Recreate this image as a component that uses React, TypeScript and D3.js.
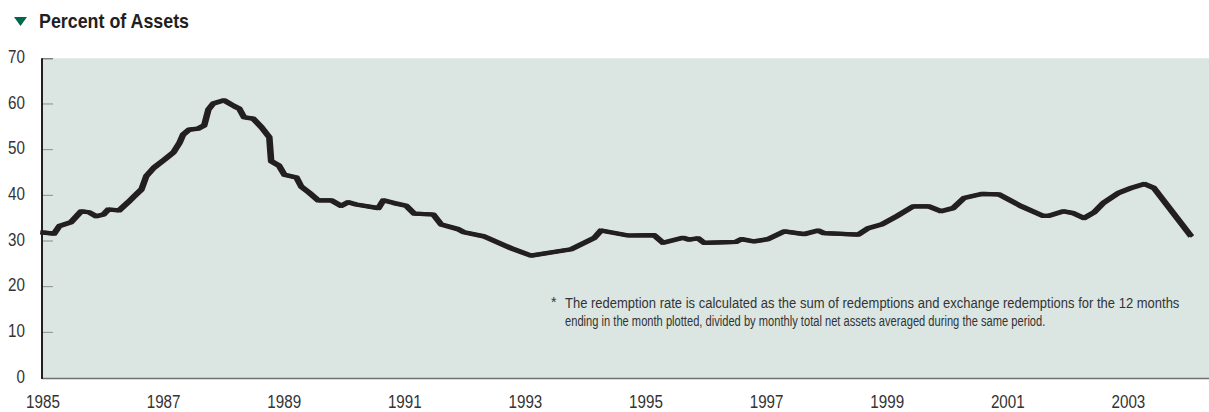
import React, { useLayoutEffect, useRef, useState } from "react";
import * as d3 from "d3";

const years: number[] = [
  1984.97, 1985.18, 1985.27, 1985.46, 1985.63, 1985.76, 1985.88, 1986.0, 1986.08, 1986.26,
  1986.41, 1986.51, 1986.63, 1986.71, 1986.84, 1987.01, 1987.16, 1987.26, 1987.32, 1987.42,
  1987.57, 1987.67, 1987.74, 1987.82, 1988.0, 1988.17, 1988.25, 1988.33, 1988.48, 1988.62,
  1988.75, 1988.78, 1988.91, 1989.0, 1989.2, 1989.28, 1989.41, 1989.56, 1989.78, 1989.94,
  1990.06, 1990.19, 1990.56, 1990.64, 1990.82, 1991.02, 1991.15, 1991.47, 1991.6, 1991.88,
  1991.98, 1992.31, 1992.76, 1993.09, 1993.76, 1994.14, 1994.25, 1994.7, 1995.13, 1995.28,
  1995.61, 1995.71, 1995.86, 1995.96, 1996.49, 1996.58, 1996.79, 1997.02, 1997.29, 1997.62,
  1997.85, 1997.95, 1998.52, 1998.68, 1998.9, 1999.15, 1999.43, 1999.68, 1999.89, 2000.09,
  2000.27, 2000.56, 2000.85, 2001.22, 2001.58, 2001.68, 2001.92, 2002.08, 2002.26, 2002.43,
  2002.58, 2002.83, 2003.04, 2003.26, 2003.42, 2004.04,
];

const rate: number[] = [
  31.9, 31.6, 33.3, 34.1, 36.5, 36.3, 35.4, 35.8, 36.9, 36.7,
  38.5, 39.8, 41.3, 44.2, 46.1, 47.8, 49.4, 51.5, 53.3, 54.4,
  54.6, 55.3, 58.8, 60.1, 60.8, 59.5, 59.0, 57.1, 56.8, 54.9,
  52.7, 47.5, 46.5, 44.5, 43.9, 41.9, 40.6, 38.9, 38.9, 37.7,
  38.5, 38.0, 37.2, 38.9, 38.3, 37.7, 36.0, 35.8, 33.6, 32.6,
  31.9, 31.0, 28.4, 26.8, 28.2, 30.7, 32.3, 31.2, 31.3, 29.6,
  30.7, 30.3, 30.6, 29.6, 29.8, 30.4, 29.9, 30.4, 32.1, 31.5,
  32.3, 31.7, 31.4, 32.8, 33.6, 35.4, 37.6, 37.6, 36.5, 37.2,
  39.4, 40.3, 40.2, 37.6, 35.5, 35.5, 36.5, 36.1, 35.0, 36.3,
  38.3, 40.5, 41.6, 42.5, 41.6, 31.0,
];

const xTicks: number[] = [1985, 1987, 1989, 1991, 1993, 1995, 1997, 1999, 2001, 2003];
const yTicks: number[] = [0, 10, 20, 30, 40, 50, 60, 70];

const titleText = "Percent of Assets";
const noteLines: string[] = [
  "The redemption rate is calculated as the sum of redemptions and exchange redemptions for the 12 months",
  "ending in the month plotted, divided by monthly total net assets averaged during the same period.",
];
const noteWidths: number[] = [614, 480];

const W = 1209;
const H = 412;
const FONT = "'Liberation Sans', Arial, sans-serif";
const SQ = 0.8; // horizontal condensing of tick labels

export default function App() {
  const left = 42;
  const top = 58.3;
  const bottom = 378;
  const x = d3.scaleLinear().domain([1985, 2004]).range([left, left + 19 * 60.3]);
  const y = d3.scaleLinear().domain([0, 70]).range([bottom, top]);

  const pts: [number, number][] = years.map((yr, i) => [yr, rate[i]]);
  const line = d3
    .line<[number, number]>()
    .x((d) => x(d[0]))
    .y((d) => y(d[1]))
    .curve(d3.curveLinear);
  const path = line(pts) || "";

  const noteRefs = useRef<(SVGTextElement | null)[]>([]);
  const [noteScale, setNoteScale] = useState<number[]>([0.85, 0.85]);
  useLayoutEffect(() => {
    const s = noteRefs.current.map((el, i) => {
      if (!el) return 0.85;
      const w = el.getComputedTextLength();
      return w > 0 ? noteWidths[i] / w : 0.85;
    });
    setNoteScale(s);
  }, []);

  return (
    <svg
      width={W}
      height={H}
      style={{ position: "absolute", left: 0, top: 0, display: "block" }}
      fontFamily={FONT}
    >
      {/* title */}
      <polygon points="14,17 27,17 20.5,26" fill="#00674f" />
      <text
        x={39}
        y={27.5}
        fontSize={21}
        fontWeight="bold"
        fill="#231f20"
        textLength={150}
        lengthAdjust="spacingAndGlyphs"
      >
        {titleText}
      </text>

      {/* plot background */}
      <rect x={left} y={top} width={W - left} height={bottom - top} fill="#dbe6e3" />

      {/* y ticks */}
      {yTicks.map((t) => (
        <g key={t}>
          {t > 0 && t < 70 && (
            <line x1={left} x2={left + 11} y1={y(t)} y2={y(t)} stroke="#8a8f8e" strokeWidth={1} />
          )}
          <text
            transform={`translate(25,${y(t) - 2}) scale(${SQ},1)`}
            dy="0.35em"
            textAnchor="end"
            fontSize={19}
            fill="#333"
          >
            {t}
          </text>
        </g>
      ))}
      <line x1={left} x2={left + 11} y1={top + 0.5} y2={top + 0.5} stroke="#555" strokeWidth={1} />

      {/* x labels */}
      {xTicks.map((t) => (
        <text
          key={t}
          transform={`translate(${x(t) + 1},407.5) scale(${SQ},1)`}
          textAnchor="middle"
          fontSize={19}
          fill="#333"
        >
          {t}
        </text>
      ))}

      {/* axes */}
      <line x1={left} x2={W} y1={bottom + 0.5} y2={bottom + 0.5} stroke="#6d7170" strokeWidth={1.5} />
      <line x1={left} x2={left} y1={top} y2={bottom + 1} stroke="#231f20" strokeWidth={2} />

      {/* note */}
      <text x={551} y={307} fontSize={14} fill="#333">*</text>
      {noteLines.map((s, i) => (
        <text
          key={i}
          ref={(el) => {
            noteRefs.current[i] = el;
          }}
          transform={`translate(565,${308 + i * 18}) scale(${noteScale[i]},1)`}
          fontSize={14.5}
          fill="#333"
        >
          {s}
        </text>
      ))}

      {/* data line with calligraphic thickness */}
      <path d={path} fill="none" stroke="#231f20" strokeWidth={4.2} strokeLinejoin="round" strokeLinecap="butt" />
      <path
        d={path}
        transform="translate(2.4,0)"
        fill="none"
        stroke="#231f20"
        strokeWidth={4.2}
        strokeLinejoin="round"
        strokeLinecap="butt"
      />
    </svg>
  );
}
